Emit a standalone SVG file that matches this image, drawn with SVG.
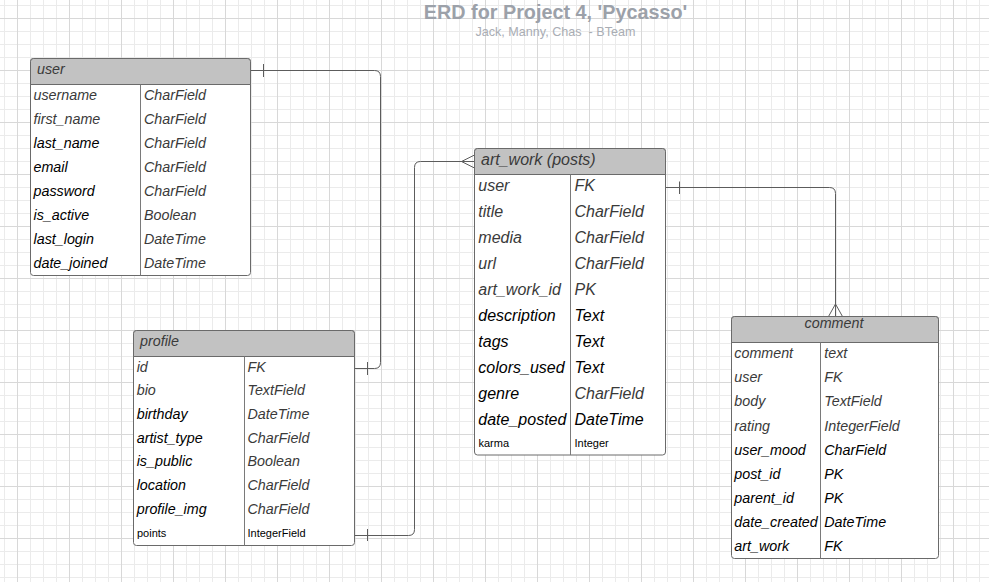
<svg xmlns="http://www.w3.org/2000/svg" width="989" height="582" viewBox="0 0 989 582">
<defs>
<pattern id="grid" width="52" height="52" patternUnits="userSpaceOnUse" x="4" y="5">
<path d="M0.5 0V52M26.5 0V52M39.5 0V52M0 0.5H52M0 26.5H52M0 39.5H52" stroke="#ebebeb" stroke-width="1" fill="none"/>
<path d="M13.5 0V52M0 13.5H52" stroke="#d8d8d8" stroke-width="1" fill="none"/>
</pattern>
</defs>
<style>
text{font-family:"Liberation Sans",Arial,sans-serif}
.box{fill:#fff;stroke:#6a6a6a;stroke-width:1}
.hdr{fill:#c2c2c2;stroke:#6a6a6a;stroke-width:1}
.div{stroke:#7a7a7a;stroke-width:1;fill:none}
.t14{font-size:14.3px;font-style:italic}
.t16{font-size:16px;font-style:italic}
.t11{font-size:11px;fill:#000}
.g{fill:#3a3a3a}
.b{fill:#000}
.con{fill:none;stroke:#5c5c5c;stroke-width:1}
.title{font-size:19.8px;font-weight:bold;fill:#9ca1a9}
.sub{font-size:12.6px;fill:#a9adb4;white-space:pre}
</style>
<rect width="989" height="582" fill="#fff"/>
<rect width="989" height="582" fill="url(#grid)"/>

<g id="title">
<text class="title" x="555.5" y="18.5" text-anchor="middle">ERD for Project 4, 'Pycasso'</text>
<text class="sub" x="555.5" y="36" text-anchor="middle" xml:space="preserve">Jack, Manny, Chas  - BTeam</text>
</g>

<g id="connectors">
<path class="con" d="M250.5 70.5H374.5Q380.5 70.5 380.5 76.5V362.5Q380.5 368.5 374.5 368.5H354.5"/>
<path class="con" d="M263.5 64V77M367.5 362V375"/>
<path class="con" d="M354.5 535.5H408.5Q414.5 535.5 414.5 529.5V167.5Q414.5 161.5 420.5 161.5H474.5"/>
<path class="con" d="M367.5 529V541M474.5 155L461.5 161.5L474.5 168"/>
<path class="con" d="M665.5 187.5H829.5Q835.5 187.5 835.5 193.5V316.5"/>
<path class="con" d="M679.5 181.5V194M828.5 316.5L835.5 304L842.5 316.5"/>
</g>

<g id="user">
<rect class="box" x="30.5" y="58.5" width="220" height="217" rx="3"/>
<path class="hdr" d="M30.5 84.5V61.5Q30.5 58.5 33.5 58.5H247.5Q250.5 58.5 250.5 61.5V84.5Z"/>
<path class="div" d="M140.5 84.5V275.5"/>
<text class="t14 g" x="37" y="74">user</text>
<text class="t14 g" x="33.5" y="99.5">username</text><text class="t14 g" x="144" y="99.5">CharField</text>
<text class="t14 g" x="33.5" y="123.6">first_name</text><text class="t14 g" x="144" y="123.6">CharField</text>
<text class="t14 b" x="33.5" y="147.7">last_name</text><text class="t14 g" x="144" y="147.7">CharField</text>
<text class="t14 b" x="33.5" y="171.8">email</text><text class="t14 g" x="144" y="171.8">CharField</text>
<text class="t14 b" x="33.5" y="195.9">password</text><text class="t14 g" x="144" y="195.9">CharField</text>
<text class="t14 b" x="33.5" y="220">is_active</text><text class="t14 g" x="144" y="220">Boolean</text>
<text class="t14 b" x="33.5" y="244.1">last_login</text><text class="t14 g" x="144" y="244.1">DateTime</text>
<text class="t14 b" x="33.5" y="268.2">date_joined</text><text class="t14 g" x="144" y="268.2">DateTime</text>
</g>

<g id="profile">
<rect class="box" x="133.5" y="330.5" width="221" height="215" rx="3"/>
<path class="hdr" d="M133.5 356.5V333.5Q133.5 330.5 136.5 330.5H351.5Q354.5 330.5 354.5 333.5V356.5Z"/>
<path class="div" d="M244.5 356.5V545.5"/>
<text class="t14 g" x="140" y="345.7">profile</text>
<text class="t14 g" x="136.7" y="371.7">id</text><text class="t14 g" x="247.5" y="371.7">FK</text>
<text class="t14 g" x="136.7" y="395.4">bio</text><text class="t14 g" x="247.5" y="395.4">TextField</text>
<text class="t14 b" x="136.7" y="419">birthday</text><text class="t14 g" x="247.5" y="419">DateTime</text>
<text class="t14 b" x="136.7" y="442.7">artist_type</text><text class="t14 g" x="247.5" y="442.7">CharField</text>
<text class="t14 b" x="136.7" y="466.3">is_public</text><text class="t14 g" x="247.5" y="466.3">Boolean</text>
<text class="t14 b" x="136.7" y="490">location</text><text class="t14 g" x="247.5" y="490">CharField</text>
<text class="t14 b" x="136.7" y="513.6">profile_img</text><text class="t14 g" x="247.5" y="513.6">CharField</text>
<text class="t11" x="137" y="537.3">points</text><text class="t11" x="247.5" y="537.3">IntegerField</text>
</g>

<g id="art_work">
<rect class="box" x="474.5" y="148.5" width="191" height="306.5" rx="3"/>
<path class="hdr" d="M474.5 174.5V151.5Q474.5 148.5 477.5 148.5H662.5Q665.5 148.5 665.5 151.5V174.5Z"/>
<path class="div" d="M570.5 174.5V455"/>
<text class="t16 g" x="481" y="165">art_work (posts)</text>
<text class="t16 g" x="478.3" y="191">user</text><text class="t16 g" x="574.5" y="191">FK</text>
<text class="t16 g" x="478.3" y="217">title</text><text class="t16 g" x="574.5" y="217">CharField</text>
<text class="t16 g" x="478.3" y="243">media</text><text class="t16 g" x="574.5" y="243">CharField</text>
<text class="t16 g" x="478.3" y="269">url</text><text class="t16 g" x="574.5" y="269">CharField</text>
<text class="t16 g" x="478.3" y="295">art_work_id</text><text class="t16 g" x="574.5" y="295">PK</text>
<text class="t16 b" x="478.3" y="321">description</text><text class="t16 b" x="574.5" y="321">Text</text>
<text class="t16 b" x="478.3" y="347">tags</text><text class="t16 b" x="574.5" y="347">Text</text>
<text class="t16 b" x="478.3" y="373">colors_used</text><text class="t16 b" x="574.5" y="373">Text</text>
<text class="t16 b" x="478.3" y="399">genre</text><text class="t16 g" x="574.5" y="399">CharField</text>
<text class="t16 b" x="478.3" y="425">date_posted</text><text class="t16 b" x="574.5" y="425">DateTime</text>
<text class="t11" x="478.5" y="446.7">karma</text><text class="t11" x="574.5" y="446.7">Integer</text>
</g>

<g id="comment">
<rect class="box" x="731.5" y="316.5" width="207" height="242" rx="3"/>
<path class="hdr" d="M731.5 342.5V319.5Q731.5 316.5 734.5 316.5H935.5Q938.5 316.5 938.5 319.5V342.5Z"/>
<path class="div" d="M820.5 342.5V558.5"/>
<text class="t14 g" x="834" y="328.3" text-anchor="middle">comment</text>
<text class="t14 g" x="734.3" y="358.3">comment</text><text class="t14 g" x="824.3" y="358.3">text</text>
<text class="t14 g" x="734.3" y="382.4">user</text><text class="t14 g" x="824.3" y="382.4">FK</text>
<text class="t14 g" x="734.3" y="406.4">body</text><text class="t14 g" x="824.3" y="406.4">TextField</text>
<text class="t14 g" x="734.3" y="430.5">rating</text><text class="t14 g" x="824.3" y="430.5">IntegerField</text>
<text class="t14 b" x="734.3" y="454.5">user_mood</text><text class="t14 b" x="824.3" y="454.5">CharField</text>
<text class="t14 b" x="734.3" y="478.6">post_id</text><text class="t14 b" x="824.3" y="478.6">PK</text>
<text class="t14 b" x="734.3" y="502.6">parent_id</text><text class="t14 b" x="824.3" y="502.6">PK</text>
<text class="t14 b" x="734.3" y="526.7">date_created</text><text class="t14 b" x="824.3" y="526.7">DateTime</text>
<text class="t14 b" x="734.3" y="550.7">art_work</text><text class="t14 b" x="824.3" y="550.7">FK</text>
</g>
</svg>
